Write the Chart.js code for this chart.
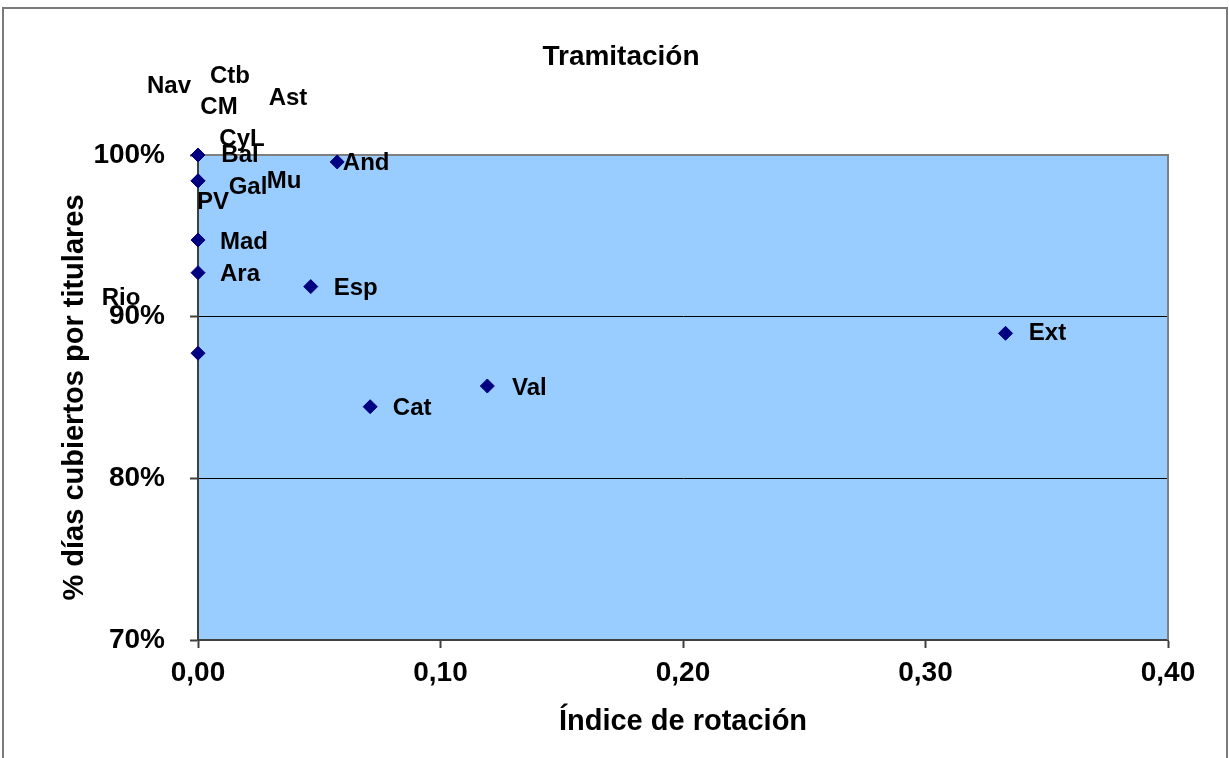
<!DOCTYPE html>
<html>
<head>
<meta charset="utf-8">
<script src="https://cdn.jsdelivr.net/npm/chart.js@4/dist/chart.umd.min.js"></script>
<style>
  html, body { margin: 0; padding: 0; background: #ffffff; }
  #wrap { width: 1229px; height: 758px; position: relative; }
</style>
</head>
<body>
<div id="wrap"><canvas id="c" width="1229" height="758"></canvas></div>
<script>
// ---- Data ----
const regions   = ['And', 'Ara', 'Ast', 'Bal', 'Cat', 'CM', 'CyL', 'Ctb', 'Ext', 'Gal', 'Mad', 'Mu', 'Nav', 'PV', 'Rio', 'Val', 'Esp'];
const rotacion  = [0.0574, 0, 0, 0, 0.0710, 0, 0, 0, 0.333, 0, 0, 0, 0, 0, 0, 0.1193, 0.0465];
const cubiertos = [99.57, 92.72, 100, 100, 84.43, 100, 100, 100, 88.97, 98.4, 94.74, 100, 100, 98.4, 87.74, 85.71, 91.86];
const xTickLabels = ['0,00', '0,10', '0,20', '0,30', '0,40'];
const yTickLabels = ['70%', '80%', '90%', '100%'];
const chartTitle = 'Tramitación';
const xTitle = 'Índice de rotación';
const yTitle = '% días cubiertos por titulares';

// ---- Label placement (pixel offsets of label centre from its point; labels were moved by hand in the original) ----
const labelOffsets = {
  And: [29, 1], Ara: [42, 2], Ast: [90, -57], Bal: [42, 0], Cat: [42, 2], CM: [21, -48],
  CyL: [44, -16], Ctb: [32, -79], Ext: [42, 0], Gal: [50, 7], Mad: [46, 2], Mu: [86, 26],
  Nav: [-29, -69], PV: [15, 22], Rio: [-77, -55], Val: [42, 2], Esp: [45, 2]
};

const FONT = "'Liberation Sans', Arial, Helvetica, sans-serif";
const points = regions.map((r, i) => ({ x: rotacion[i], y: cubiertos[i], label: r }));

const decorPlugin = {
  id: 'decor',
  beforeDraw(chart) {
    const { ctx, chartArea: a } = chart;
    ctx.save();
    ctx.strokeStyle = '#7a7a7a';
    ctx.lineWidth = 2;
    ctx.strokeRect(3, 8, 1224, 760);
    ctx.fillStyle = '#99CCFF';
    ctx.fillRect(a.left, a.top, a.right - a.left, a.bottom - a.top);
    ctx.restore();
  },
  beforeDatasetsDraw(chart) {
    const { ctx, chartArea: a } = chart;
    ctx.save();
    ctx.strokeStyle = '#808080';
    ctx.lineWidth = 2;
    ctx.beginPath();
    ctx.moveTo(a.left, a.top);
    ctx.lineTo(a.right, a.top);
    ctx.lineTo(a.right, a.bottom);
    ctx.stroke();
    ctx.restore();
  },
  afterDraw(chart) {
    const { ctx } = chart;
    ctx.save();
    ctx.fillStyle = '#000';
    ctx.font = 'bold 28px ' + FONT;
    ctx.textAlign = 'center';
    ctx.textBaseline = 'alphabetic';
    ctx.fillText(chartTitle, 621, 65);
    const meta = chart.getDatasetMeta(0);
    ctx.font = 'bold 24px ' + FONT;
    ctx.textBaseline = 'middle';
    meta.data.forEach((el, i) => {
      const name = regions[i];
      const off = labelOffsets[name] || [40, 0];
      ctx.fillText(name, el.x + off[0], el.y + off[1]);
    });
    ctx.restore();
  }
};

new Chart(document.getElementById('c'), {
  type: 'scatter',
  data: {
    datasets: [{
      data: points,
      pointStyle: 'rectRot',
      pointRadius: 7,
      pointBackgroundColor: '#000080',
      pointBorderColor: '#000080',
      pointBorderWidth: 1,
      clip: false
    }]
  },
  options: {
    responsive: false,
    animation: false,
    events: [],
    layout: { padding: { top: 155, right: 61, bottom: 0, left: 0 } },
    plugins: {
      legend: { display: false },
      tooltip: { enabled: false },
      title: { display: false }
    },
    scales: {
      x: {
        type: 'linear',
        min: 0, max: 0.4,
        afterFit(scale) { scale.height = 118; },
        ticks: {
          stepSize: 0.1,
          color: '#000',
          font: { family: FONT, size: 28, weight: 'bold' },
          padding: 8,
          maxRotation: 0,
          callback: (v, i) => xTickLabels[i]
        },
        grid: { drawOnChartArea: false, drawTicks: true, tickLength: 8, tickColor: '#404040', tickWidth: 2 },
        border: { color: '#404040', width: 2 },
        title: {
          display: true, text: xTitle, color: '#000',
          font: { family: FONT, size: 29, weight: 'bold' },
          padding: { top: 0, bottom: 19 }
        }
      },
      y: {
        type: 'linear',
        min: 70, max: 100,
        afterFit(scale) { scale.width = 198; },
        ticks: {
          stepSize: 10,
          color: '#000',
          font: { family: FONT, size: 28, weight: 'bold' },
          padding: 25,
          callback: (v, i) => yTickLabels[i]
        },
        grid: {
          color: (c) => (c.tick && (c.tick.value === 80 || c.tick.value === 90)) ? '#000000' : 'rgba(0,0,0,0)',
          lineWidth: 1,
          tickLength: 8,
          tickColor: '#404040',
          tickWidth: 2
        },
        border: { color: '#404040', width: 2 },
        title: {
          display: true, text: yTitle, color: '#000',
          font: { family: FONT, size: 29, weight: 'bold' },
          padding: { top: 58, bottom: 0 }
        }
      }
    }
  },
  plugins: [decorPlugin]
});
</script>
</body>
</html>
